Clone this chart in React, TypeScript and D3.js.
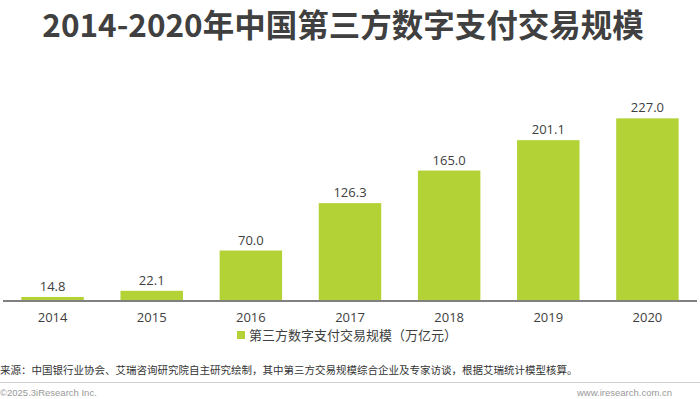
import React from "react";
import * as d3 from "d3";

const years = ["2014", "2015", "2016", "2017", "2018", "2019", "2020"];
const values = [14.8, 22.1, 70.0, 126.3, 165.0, 201.1, 227.0];
const seriesName = "第三方数字支付交易规模（万亿元）";
const title = "2014-2020年中国第三方数字支付交易规模";
const source = "来源：中国银行业协会、艾瑞咨询研究院自主研究绘制，其中第三方交易规模综合企业及专家访谈，根据艾瑞统计模型核算。";
const copyright = "©2025.3iResearch Inc.";
const site = "www.iresearch.com.cn";

const W = 700;
const H = 399;
const GREEN = "#b3d235";
const TEXT = "#404040";
const CJK = "'Noto Sans CJK SC', 'Noto Sans', sans-serif";
const NUM = "'Open Sans', 'Noto Sans', sans-serif";

export default function App() {
  const x = d3.scaleBand<string>().domain(years).range([3, 697]).paddingInner(0.37).paddingOuter(0.185);
  const y = d3.scaleLinear().domain([10, 250]).range([301, 99]);
  const base = y(10);

  return (
    <svg width={W} height={H} style={{ position: "absolute", left: 0, top: 0, background: "#fff" }}>
      <text x={343} y={37} textAnchor="middle" fontFamily={CJK} fontWeight={700} fontSize={31.5} fill={TEXT}>
        {title}
      </text>
      {years.map((yr, i) => (
        <g key={yr}>
          <rect x={x(yr)} y={y(values[i])} width={x.bandwidth()} height={base - y(values[i])} fill={GREEN} />
          <text
            x={(x(yr) as number) + x.bandwidth() / 2}
            y={y(values[i]) - 6}
            textAnchor="middle"
            fontFamily={NUM}
            fontSize={13}
            fill={TEXT}
          >
            {values[i].toFixed(1)}
          </text>
          <text
            x={(x(yr) as number) + x.bandwidth() / 2}
            y={322}
            textAnchor="middle"
            fontFamily={NUM}
            fontSize={13}
            fill={TEXT}
          >
            {yr}
          </text>
        </g>
      ))}
      <line x1={3} x2={697} y1={base} y2={base} stroke="#808080" strokeWidth={2} />
      <rect x={237} y={331} width={8} height={8} fill={GREEN} />
      <text x={249} y={340} fontFamily={CJK} fontSize={13} fill={TEXT}>
        {seriesName}
      </text>
      <text x={0} y={374} fontFamily={CJK} fontSize={10.5} fill="#333">
        {source}
      </text>
      <line x1={0} x2={700} y1={382.5} y2={382.5} stroke="#d0d0d0" strokeWidth={1} />
      <text x={0} y={396} fontFamily="'Liberation Sans', Arial, sans-serif" fontSize={9.5} fill="#999">
        {copyright}
      </text>
      <text x={672} y={396} textAnchor="end" fontFamily="'Liberation Sans', Arial, sans-serif" fontSize={9.5} fill="#999">
        {site}
      </text>
    </svg>
  );
}
